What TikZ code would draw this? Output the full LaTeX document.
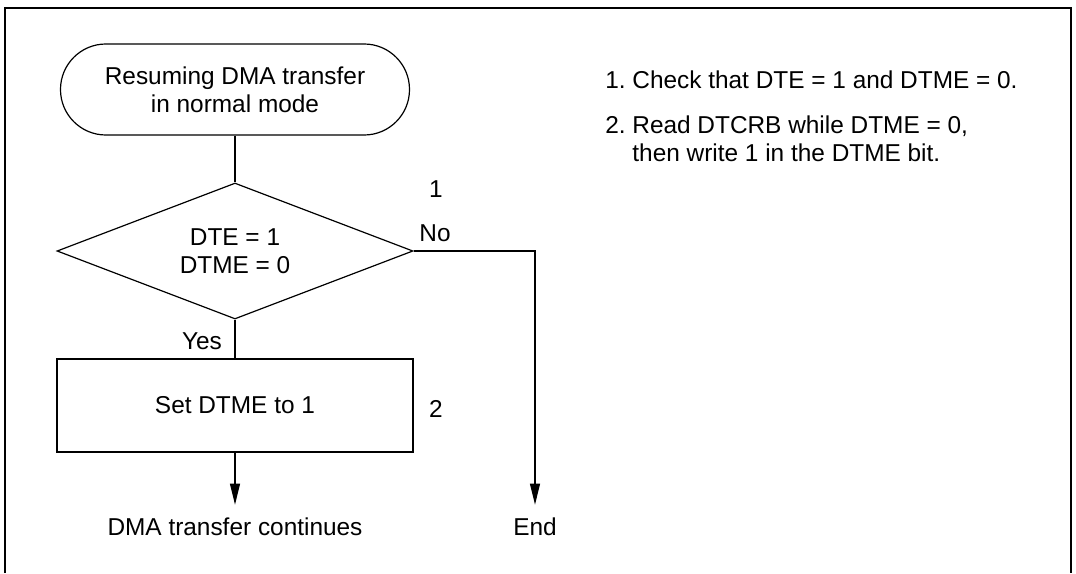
\documentclass[tikz,border=0pt]{standalone}
\usepackage{fontspec}
\setmainfont{Liberation Sans}
\usetikzlibrary{shapes.geometric, arrows.meta}
\tikzset{
  startstop/.style={draw, rectangle, rounded corners=22.7pt, minimum width=174.5pt, minimum height=45.5pt, inner sep=0pt, align=center, line width=0.6pt},
  decision/.style={draw, diamond, aspect=2.6, minimum width=178pt, minimum height=68pt, inner sep=0pt, align=center, line width=0.6pt},
  process/.style={draw, rectangle, minimum width=178pt, minimum height=46.5pt, align=center, line width=0.6pt},
  outlet/.style={inner sep=6.5pt},
  note/.style={anchor=west, inner sep=0pt, align=left},
  flow/.style={line width=0.6pt},
  arrow/.style={flow, -{Triangle[length=10.5pt, width=5pt]}}
}
\begin{document}
\begin{tikzpicture}[x=0.5pt, y=-0.5pt, font=\fontsize{12.2}{14}\selectfont]
		\useasboundingbox (0,0) rectangle (1076,573);
		% frame
		\draw[line width=1pt] (5,573) -- (5,8) -- (1071,8) -- (1071,573);
		% flow chart
		\node[startstop] (start) at (235,89.5) {Resuming DMA transfer\\in normal mode};
		\node[decision] (check) at (235,251) {DTE = 1\\DTME = 0};
		\node[process] (set) at (235,405.5) {Set DTME to 1};
		\node[outlet] (cont) at (235,527) {DMA transfer continues};
		\node[outlet] (end) at (535,527) {End};
		\coordinate (turn) at (535,251);
		
		\draw[flow] (start) -- (check);
		\draw[flow] (check) -- (set);
		\draw[arrow] (set) -- (cont);
		\draw[arrow] (check.east) -- (turn) -- (end);
		
		\node (yes) at (202,341) {Yes};
		\node (no) at (435,233) {No};
		\node (step1) at (436,189) {1};
		\node (step2) at (436,409) {2};
		
		% notes
		\node[note] (num1) at (605,80) {1.};
		\node[note] (note1) at (632,80) {Check that DTE = 1 and DTME = 0.};
		\node[note] (num2) at (605,125) {2.};
		\node[note] (note2) at (632,139) {Read DTCRB while DTME = 0,\\then write 1 in the DTME bit.};
	\end{tikzpicture}
\end{document}
